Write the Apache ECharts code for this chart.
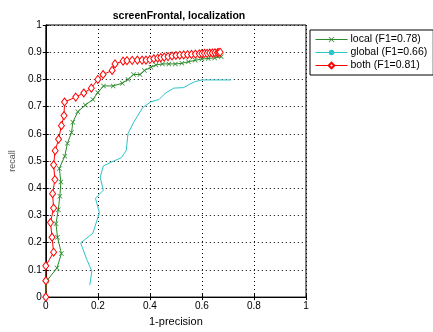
<!DOCTYPE html>
<html>
<head>
<meta charset="utf-8">
<script src="https://cdn.jsdelivr.net/npm/echarts@6/dist/echarts.min.js"></script>
<style>
  html, body { margin: 0; padding: 0; background: #fff; }
  #chart { width: 433px; height: 332px; }
</style>
</head>
<body>
<div id="chart"></div>
<script>
// 数据
var xTicks = [0, 0.2, 0.4, 0.6, 0.8, 1]
var yTicks = [0, 0.1, 0.2, 0.3, 0.4, 0.5, 0.6, 0.7, 0.8, 0.9, 1]

var localX = [0, 0.004, 0.043, 0.06, 0.045, 0.039, 0.048, 0.054, 0.058, 0.052, 0.073, 0.083, 0.099, 0.104, 0.123, 0.152, 0.181, 0.2, 0.222, 0.259, 0.294, 0.316, 0.337, 0.362, 0.379, 0.404, 0.423, 0.448, 0.473, 0.498, 0.523, 0.548, 0.574, 0.6, 0.624, 0.649, 0.674]
var localY = [0, 0.06, 0.107, 0.16, 0.22, 0.27, 0.321, 0.371, 0.423, 0.473, 0.518, 0.565, 0.605, 0.643, 0.681, 0.706, 0.726, 0.752, 0.776, 0.776, 0.786, 0.8, 0.818, 0.818, 0.833, 0.845, 0.853, 0.857, 0.857, 0.857, 0.859, 0.865, 0.87, 0.875, 0.877, 0.879, 0.883]

var globalX = [0.169, 0.177, 0.158, 0.134, 0.181, 0.206, 0.191, 0.221, 0.209, 0.221, 0.247, 0.29, 0.309, 0.316, 0.338, 0.372, 0.404, 0.435, 0.46, 0.492, 0.53, 0.548, 0.574, 0.6, 0.712]
var globalY = [0.044, 0.095, 0.137, 0.199, 0.235, 0.31, 0.363, 0.393, 0.44, 0.482, 0.494, 0.512, 0.538, 0.601, 0.643, 0.696, 0.718, 0.726, 0.75, 0.768, 0.77, 0.78, 0.792, 0.798, 0.798]

var bothX = [0, 0, 0, 0.03, 0.024, 0.018, 0.03, 0.026, 0.035, 0.03, 0.036, 0.049, 0.06, 0.07, 0.072, 0.115, 0.146, 0.175, 0.2, 0.22, 0.255, 0.266, 0.297, 0.312, 0.332, 0.352, 0.37, 0.385, 0.4, 0.415, 0.43, 0.442, 0.455, 0.47, 0.485, 0.5, 0.515, 0.53, 0.545, 0.56, 0.575, 0.59, 0.6, 0.61, 0.62, 0.63, 0.64, 0.65, 0.66, 0.665, 0.67]
var bothY = [0, 0.06, 0.115, 0.165, 0.22, 0.274, 0.327, 0.38, 0.432, 0.486, 0.538, 0.58, 0.63, 0.667, 0.717, 0.735, 0.75, 0.768, 0.8, 0.818, 0.833, 0.857, 0.867, 0.869, 0.87, 0.871, 0.871, 0.871, 0.873, 0.876, 0.878, 0.88, 0.882, 0.884, 0.886, 0.888, 0.889, 0.89, 0.891, 0.892, 0.893, 0.894, 0.895, 0.896, 0.896, 0.897, 0.897, 0.898, 0.898, 0.899, 0.9]

var seriesNames = ['local (F1=0.78)', 'global (F1=0.66)', 'both (F1=0.81)']

function pairs(xs, ys) {
  return xs.map(function (x, i) { return [x, ys[i]] })
}

var crossSymbol = 'path://M0,1L1,0L5,4L9,0L10,1L6,5L10,9L9,10L5,6L1,10L0,9L4,5Z'

var myChart = echarts.init(document.getElementById('chart'))

var axisText = { color: '#000', fontSize: 10, fontFamily: 'Liberation Sans' }
var dotted = { show: true, lineStyle: { color: '#000', width: 1, type: [1, 3] } }

var option = {
  backgroundColor: '#fff',
  animation: false,
  title: {
    text: 'screenFrontal, localization',
    left: 174,
    textAlign: 'center',
    top: 6,
    textStyle: { fontSize: 10.5, fontWeight: 'bold', color: '#000', fontFamily: 'Liberation Sans' }
  },
  legend: {
    left: 310,
    top: 30,
    orient: 'vertical',
    itemWidth: 32,
    itemHeight: 7,
    itemGap: 2,
    padding: [4, 6, 4, 5],
    borderColor: '#000',
    borderWidth: 1,
    backgroundColor: '#fff',
    lineStyle: { width: 1 },
    textStyle: { color: '#000', fontSize: 10.5, fontFamily: 'Liberation Sans', padding: [0, 0, 0, -2] },
    data: seriesNames
  },
  grid: {
    left: 41,
    right: 127,
    top: 25,
    bottom: 27,
    show: true,
    borderColor: '#000',
    borderWidth: 1
  },
  xAxis: [
    {
      type: 'value', min: 0, max: 1, interval: 0.2,
      name: '1-precision', nameLocation: 'middle', nameGap: 14,
      nameTextStyle: { color: '#000', fontSize: 11, fontFamily: 'Liberation Sans' },
      axisLine: { show: true, lineStyle: { color: '#000' } },
      axisTick: { show: true, inside: true, length: 3, lineStyle: { color: '#000' } },
      axisLabel: Object.assign({ margin: 4 }, axisText),
      splitLine: dotted
    },
    {
      type: 'value', min: 0, max: 1, interval: 0.2, position: 'top',
      axisLine: { show: true, lineStyle: { color: '#000' } },
      axisTick: { show: true, inside: true, length: 3, lineStyle: { color: '#000' } },
      axisLabel: { show: false },
      splitLine: { show: false }
    }
  ],
  yAxis: [
    {
      type: 'value', min: 0, max: 1, interval: 0.1,
      name: 'recall', nameLocation: 'middle', nameGap: 27,
      nameTextStyle: { color: '#555', fontSize: 9, fontFamily: 'Liberation Sans' },
      axisLine: { show: true, lineStyle: { color: '#000' } },
      axisTick: { show: true, inside: true, length: 3, lineStyle: { color: '#000' } },
      axisLabel: Object.assign({ margin: 4 }, axisText),
      splitLine: dotted
    },
    {
      type: 'value', min: 0, max: 1, interval: 0.1, position: 'right',
      axisLine: { show: true, lineStyle: { color: '#000' } },
      axisTick: { show: true, inside: true, length: 3, lineStyle: { color: '#000' } },
      axisLabel: { show: false },
      splitLine: { show: false }
    }
  ],
  series: [
    {
      name: seriesNames[0],
      type: 'line',
      data: pairs(localX, localY),
      symbol: crossSymbol,
      symbolSize: 5,
      showAllSymbol: true,
      lineStyle: { color: '#2b8a2b', width: 1 },
      itemStyle: { color: '#2b8a2b' },
      z: 3
    },
    {
      name: seriesNames[1],
      type: 'line',
      data: pairs(globalX, globalY),
      symbol: 'none',
      lineStyle: { color: '#2ec4c8', width: 1 },
      itemStyle: { color: '#2ec4c8' },
      z: 2
    },
    {
      name: seriesNames[2],
      type: 'line',
      data: pairs(bothX, bothY),
      symbol: 'diamond',
      symbolSize: [6, 8],
      showAllSymbol: true,
      lineStyle: { color: '#ff0000', width: 1 },
      itemStyle: { color: '#fff', borderColor: '#ff0000', borderWidth: 1 },
      z: 4
    }
  ]
}

myChart.setOption(option, true)
</script>
</body>
</html>
